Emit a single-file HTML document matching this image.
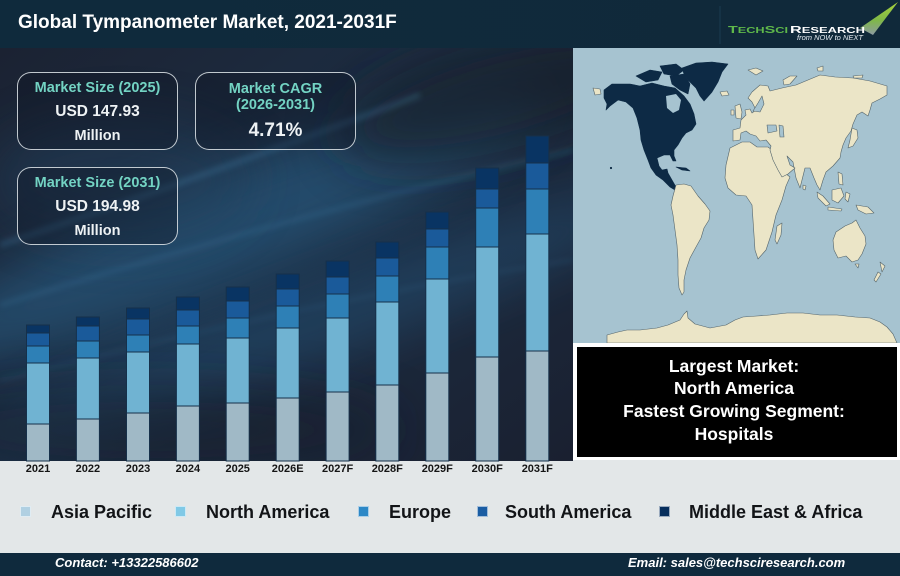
<!DOCTYPE html>
<html><head><meta charset="utf-8">
<style>
html,body{margin:0;padding:0}
body{width:900px;height:576px;position:relative;overflow:hidden;background:#e3e7e8;font-family:"Liberation Sans",Arial,sans-serif}
.t{position:absolute;white-space:nowrap;font-weight:bold}
.c{text-align:center}
.box{position:absolute;border:1.5px solid rgba(225,230,235,0.85);border-radius:14px;background:rgba(14,20,34,0.35);box-sizing:border-box}
.teal{color:#73d3c3;font-size:14.5px;line-height:18px}
.wh{color:#eef2f4;font-size:15.5px;line-height:18px}
.lg{font-size:18px;line-height:20px;color:#121417;top:502px}
.sq{position:absolute;top:506px;width:11px;height:11px;box-sizing:border-box;border:1px solid rgba(255,255,255,0.6)}
.bb{color:#fff;font-size:17.5px;line-height:22px;left:574px;width:320px;text-align:center}
.ft{color:#fff;font-size:13px;line-height:16px;font-style:italic;top:555px}
</style></head><body>
<svg width="900" height="576" viewBox="0 0 900 576" style="position:absolute;left:0;top:0">
<defs>
<linearGradient id="hdr" x1="0" y1="0" x2="1" y2="0"><stop offset="0" stop-color="#0f2a3c"/><stop offset="1" stop-color="#10293a"/></linearGradient>
<linearGradient id="bg" x1="0" y1="0" x2="1" y2="1"><stop offset="0" stop-color="#1b2232"/><stop offset="0.45" stop-color="#1d2f45"/><stop offset="1" stop-color="#1a2030"/></linearGradient>
<filter id="b25" x="-50%" y="-50%" width="200%" height="200%"><feGaussianBlur stdDeviation="25"/></filter>
<filter id="b3" x="-50%" y="-50%" width="200%" height="200%"><feGaussianBlur stdDeviation="3"/></filter>
<clipPath id="cp"><rect x="0" y="48" width="573" height="413"/></clipPath>
<linearGradient id="sw" x1="0" y1="0" x2="0" y2="1"><stop offset="0" stop-color="#a8d23c"/><stop offset="0.55" stop-color="#7fb848"/><stop offset="1" stop-color="#8d9aa3"/></linearGradient>
</defs>
<rect x="0" y="0" width="900" height="48" fill="url(#hdr)"/>
<rect x="0" y="48" width="573" height="413" fill="url(#bg)"/>
<g clip-path="url(#cp)">
<ellipse cx="230" cy="225" rx="340" ry="55" transform="rotate(-22 230 225)" fill="#2b6690" opacity="0.5" filter="url(#b25)"/>
<ellipse cx="320" cy="320" rx="360" ry="38" transform="rotate(-20 320 320)" fill="#265c84" opacity="0.4" filter="url(#b25)"/>
<ellipse cx="120" cy="180" rx="130" ry="60" fill="#20405c" opacity="0.5" filter="url(#b25)"/>
<ellipse cx="500" cy="95" rx="170" ry="55" transform="rotate(-15 500 95)" fill="#151a26" opacity="0.7" filter="url(#b25)"/>
<ellipse cx="150" cy="430" rx="250" ry="45" fill="#171d2b" opacity="0.5" filter="url(#b25)"/>
<path d="M0,245 C150,195 300,140 420,95" stroke="#4a8ab5" stroke-width="6" fill="none" opacity="0.25" filter="url(#b3)"/>
<path d="M0,305 C180,250 360,200 573,150" stroke="#4585b0" stroke-width="5" fill="none" opacity="0.2" filter="url(#b3)"/>
<path d="M0,380 C200,330 380,290 573,260" stroke="#3f7aa3" stroke-width="4" fill="none" opacity="0.15" filter="url(#b3)"/>
</g>
<!-- map -->
<rect x="573" y="48" width="327" height="295" fill="#a6c3d0"/>
<g stroke="#55656b" stroke-width="0.6" stroke-linejoin="round">
<g fill="#0d2a45" stroke="#0d2a45">
<path d="M604,90 L612,84 L630,84 L640,86 L652,83 L664,86 L675,88 L684,96 L690,104 L694,114 L696,124 L692,130 L686,133 L682,138 L678,145 L674,150 L674,156 L676,161 L673,161 L670,155 L664,155 L657,158 L659,166 L662,170 L667,169 L668,173 L672,180 L676,187 L675,190 L670,187 L663,180 L656,175 L651,168 L648,160 L644,150 L641,140 L640,130 L637,118 L633,108 L626,102 L618,100 L610,106 L606,110 L607,104 L604,98 Z"/>
<path d="M636,76 L650,70 L662,72 L658,80 L646,82 Z"/>
<path d="M660,66 L676,64 L684,70 L676,76 L664,74 Z"/>
<path d="M670,76 L684,74 L690,84 L688,94 L680,90 L672,84 Z"/>
<path d="M682,68 L696,63 L712,62 L728,64 L722,72 L718,82 L712,92 L704,101 L700,96 L696,88 L688,80 L684,74 Z"/>
<path d="M676,167 L686,168 L690,171 L682,170 Z"/>
<circle cx="611" cy="168" r="0.8"/>
</g>
<path d="M666,96 L676,94 L681,100 L679,110 L673,113 L667,108 Z" fill="#a6c3d0" stroke="none"/>
<g fill="#ebe5c7">
<path d="M593,88 L600,89 L601,94 L595,95 Z"/>
<path d="M720,92 L727,91 L729,95 L722,96 Z"/>
<path d="M676,185 L684,184 L691,186 L698,196 L705,204 L710,211 L709,220 L704,228 L701,238 L696,247 L690,258 L686,270 L684,280 L684,292 L682,295 L679,288 L678,275 L678,260 L677,245 L675,230 L673,215 L671,205 L673,196 Z"/>
<path d="M730,148 L742,142 L750,142 L757,147 L768,147 L772,150 L776,160 L781,170 L790,177 L786,186 L782,200 L776,215 L772,232 L766,250 L758,259 L755,250 L754,235 L753,220 L752,205 L746,196 L736,195 L728,188 L725,178 L726,165 Z"/>
<path d="M777,226 L782,223 L781,235 L777,244 L775,240 Z"/>
<path d="M733,130 L740,128 L741,120 L746,115 L745,110 L750,109 L752,113 L756,110 L752,102 L748,98 L752,92 L760,85 L768,86 L770,91 L782,88 L796,85 L808,80 L820,75 L835,77 L853,78 L870,81 L887,86 L887,95 L880,99 L872,103 L870,110 L868,116 L862,112 L857,115 L853,124 L851,131 L846,138 L843,145 L841,152 L840,158 L833,166 L826,172 L823,180 L820,190 L817,185 L814,178 L810,168 L805,168 L800,188 L796,178 L793,162 L787,156 L790,165 L795,168 L788,174 L782,177 L778,170 L773,160 L770,150 L771,146 L766,140 L760,141 L756,136 L750,134 L746,131 L741,133 L740,140 L733,141 Z"/>
<path d="M735,106 L740,104 L742,112 L741,119 L736,118 Z"/>
<path d="M731,110 L734,110 L734,115 L731,115 Z"/>
<path d="M748,70 L756,68 L763,71 L756,75 Z"/>
<path d="M783,80 L790,76 L797,76 L790,84 L784,85 Z"/>
<path d="M817,68 L823,66 L823,71 L818,71 Z"/>
<path d="M853,76 L863,75 L862,78 L854,78 Z"/>
<path d="M852,128 L857,130 L858,138 L853,146 L848,148 L850,140 Z"/>
<path d="M838,172 L842,174 L843,185 L839,184 Z"/>
<path d="M817,192 L823,196 L830,204 L826,206 L818,198 Z"/>
<path d="M828,207 L842,209 L841,211 L828,210 Z"/>
<path d="M832,190 L841,188 L844,196 L838,203 L832,200 Z"/>
<path d="M846,192 L850,194 L848,202 L845,199 Z"/>
<path d="M856,205 L868,207 L874,213 L866,214 L858,210 Z"/>
<path d="M836,232 L845,226 L852,223 L856,220 L860,228 L865,236 L866,244 L862,254 L858,260 L852,262 L846,256 L838,258 L834,250 L833,240 Z"/>
<path d="M855,264 L859,264 L858,268 Z"/>
<path d="M880,262 L885,266 L882,272 Z"/>
<path d="M878,272 L881,274 L876,282 L874,280 Z"/>
<path d="M803,185 L806,186 L805,190 L803,189 Z"/>
<path d="M607,343 L607,335 L618,332 L627,330 L640,330 L657,328 L668,325 L680,320 L684,314 L687,311 L688,318 L695,324 L710,328 L726,325 L735,320 L743,317 L757,316 L770,315 L787,313 L803,313 L820,315 L837,315 L855,317 L870,318 L880,322 L887,327 L893,334 L897,343 Z"/>
</g>
<g fill="#a6c3d0">
<path d="M767,125 L776,125 L777,131 L768,133 Z"/>
<path d="M779,125 L783,126 L784,137 L780,137 Z"/>
<path d="M753,111 L758,103 L762,96 L764,104 L760,112 Z"/>
</g>
</g>
<rect x="573" y="343" width="327" height="117" fill="#ffffff"/>
<rect x="577" y="347" width="320" height="110" fill="#000000"/>
<rect x="0" y="553" width="900" height="23" fill="#0f2a3d"/>
<!-- logo -->
<line x1="720" y1="6" x2="720" y2="44" stroke="#1a3a50" stroke-width="1"/>
<polygon points="860,28 898,2 873,35" fill="url(#sw)"/>
<text x="728" y="33" font-family="Liberation Sans, Arial, sans-serif" font-weight="bold" font-size="10" fill="#5fb84a" textLength="60" lengthAdjust="spacingAndGlyphs">T<tspan font-size="8">ECH</tspan>S<tspan font-size="8">CI</tspan></text>
<text x="790" y="33" font-family="Liberation Sans, Arial, sans-serif" font-weight="bold" font-size="10" fill="#ffffff" textLength="75" lengthAdjust="spacingAndGlyphs">R<tspan font-size="8">ESEARCH</tspan></text>
<text x="797" y="40" font-family="Liberation Sans, Arial, sans-serif" font-style="italic" font-size="7" fill="#e8eef2" textLength="66" lengthAdjust="spacingAndGlyphs">from NOW to NEXT</text>
<!-- bars -->
<g stroke="#16304a" stroke-width="1">
<rect x="26.5" y="325" width="23" height="8" fill="#093463"/><rect x="26.5" y="333" width="23" height="13" fill="#1a5a9a"/><rect x="26.5" y="346" width="23" height="17" fill="#2e80b6"/><rect x="26.5" y="363" width="23" height="61" fill="#70b3d2"/><rect x="26.5" y="424" width="23" height="37" fill="#a0b9c6"/>
<rect x="76.4" y="317" width="23" height="9" fill="#093463"/><rect x="76.4" y="326" width="23" height="15" fill="#1a5a9a"/><rect x="76.4" y="341" width="23" height="17" fill="#2e80b6"/><rect x="76.4" y="358" width="23" height="61" fill="#70b3d2"/><rect x="76.4" y="419" width="23" height="42" fill="#a0b9c6"/>
<rect x="126.5" y="308" width="23" height="11" fill="#093463"/><rect x="126.5" y="319" width="23" height="16" fill="#1a5a9a"/><rect x="126.5" y="335" width="23" height="17" fill="#2e80b6"/><rect x="126.5" y="352" width="23" height="61" fill="#70b3d2"/><rect x="126.5" y="413" width="23" height="48" fill="#a0b9c6"/>
<rect x="176.4" y="297" width="23" height="13" fill="#093463"/><rect x="176.4" y="310" width="23" height="16" fill="#1a5a9a"/><rect x="176.4" y="326" width="23" height="18" fill="#2e80b6"/><rect x="176.4" y="344" width="23" height="62" fill="#70b3d2"/><rect x="176.4" y="406" width="23" height="55" fill="#a0b9c6"/>
<rect x="226.2" y="287" width="23" height="14" fill="#093463"/><rect x="226.2" y="301" width="23" height="17" fill="#1a5a9a"/><rect x="226.2" y="318" width="23" height="20" fill="#2e80b6"/><rect x="226.2" y="338" width="23" height="65" fill="#70b3d2"/><rect x="226.2" y="403" width="23" height="58" fill="#a0b9c6"/>
<rect x="276.2" y="274" width="23" height="15" fill="#093463"/><rect x="276.2" y="289" width="23" height="17" fill="#1a5a9a"/><rect x="276.2" y="306" width="23" height="22" fill="#2e80b6"/><rect x="276.2" y="328" width="23" height="70" fill="#70b3d2"/><rect x="276.2" y="398" width="23" height="63" fill="#a0b9c6"/>
<rect x="326.1" y="261" width="23" height="16" fill="#093463"/><rect x="326.1" y="277" width="23" height="17" fill="#1a5a9a"/><rect x="326.1" y="294" width="23" height="24" fill="#2e80b6"/><rect x="326.1" y="318" width="23" height="74" fill="#70b3d2"/><rect x="326.1" y="392" width="23" height="69" fill="#a0b9c6"/>
<rect x="375.8" y="242" width="23" height="16" fill="#093463"/><rect x="375.8" y="258" width="23" height="18" fill="#1a5a9a"/><rect x="375.8" y="276" width="23" height="26" fill="#2e80b6"/><rect x="375.8" y="302" width="23" height="83" fill="#70b3d2"/><rect x="375.8" y="385" width="23" height="76" fill="#a0b9c6"/>
<rect x="425.8" y="212" width="23" height="17" fill="#093463"/><rect x="425.8" y="229" width="23" height="18" fill="#1a5a9a"/><rect x="425.8" y="247" width="23" height="32" fill="#2e80b6"/><rect x="425.8" y="279" width="23" height="94" fill="#70b3d2"/><rect x="425.8" y="373" width="23" height="88" fill="#a0b9c6"/>
<rect x="475.7" y="168" width="23" height="21" fill="#093463"/><rect x="475.7" y="189" width="23" height="19" fill="#1a5a9a"/><rect x="475.7" y="208" width="23" height="39" fill="#2e80b6"/><rect x="475.7" y="247" width="23" height="110" fill="#70b3d2"/><rect x="475.7" y="357" width="23" height="104" fill="#a0b9c6"/>
<rect x="525.8" y="136" width="23" height="27" fill="#093463"/><rect x="525.8" y="163" width="23" height="26" fill="#1a5a9a"/><rect x="525.8" y="189" width="23" height="45" fill="#2e80b6"/><rect x="525.8" y="234" width="23" height="117" fill="#70b3d2"/><rect x="525.8" y="351" width="23" height="110" fill="#a0b9c6"/>
</g>
<g font-family="Liberation Sans, Arial, sans-serif" font-weight="bold" font-size="11" fill="#141414" text-anchor="middle">
<text x="38" y="472">2021</text><text x="87.9" y="472">2022</text><text x="138" y="472">2023</text><text x="187.9" y="472">2024</text><text x="237.7" y="472">2025</text><text x="287.7" y="472">2026E</text><text x="337.6" y="472">2027F</text><text x="387.3" y="472">2028F</text><text x="437.3" y="472">2029F</text><text x="487.2" y="472">2030F</text><text x="537.3" y="472">2031F</text>
</g>
</svg>

<div class="t" style="left:18px;top:11px;font-size:19px;line-height:24px;color:#ffffff">Global Tympanometer Market, 2021-2031F</div>

<div class="box" style="left:17px;top:72px;width:161px;height:78px"></div>
<div class="box" style="left:195px;top:72px;width:161px;height:78px"></div>
<div class="box" style="left:17px;top:167px;width:161px;height:78px"></div>

<div class="t c teal" style="left:17px;width:161px;top:79px">Market Size (2025)</div>
<div class="t c wh" style="left:17px;width:161px;top:103px">USD 147.93</div>
<div class="t c wh" style="left:17px;width:161px;top:127px;font-size:14.5px">Million</div>

<div class="t c teal" style="left:195px;width:161px;top:80px">Market CAGR</div>
<div class="t c teal" style="left:195px;width:161px;top:96px">(2026-2031)</div>
<div class="t c wh" style="left:195px;width:161px;top:120px;font-size:19px;line-height:22px">4.71%</div>

<div class="t c teal" style="left:17px;width:161px;top:174px">Market Size (2031)</div>
<div class="t c wh" style="left:17px;width:161px;top:198px">USD 194.98</div>
<div class="t c wh" style="left:17px;width:161px;top:222px;font-size:14.5px">Million</div>

<div class="t bb" style="top:355px">Largest Market:</div>
<div class="t bb" style="top:377px">North America</div>
<div class="t bb" style="top:400px">Fastest Growing Segment:</div>
<div class="t bb" style="top:423px">Hospitals</div>

<div class="sq" style="left:20px;background:#b0d0e2"></div>
<div class="t lg" style="left:51px">Asia Pacific</div>
<div class="sq" style="left:175px;background:#80c9e6"></div>
<div class="t lg" style="left:206px">North America</div>
<div class="sq" style="left:358px;background:#2d88c6"></div>
<div class="t lg" style="left:389px">Europe</div>
<div class="sq" style="left:477px;background:#1a5da3"></div>
<div class="t lg" style="left:505px">South America</div>
<div class="sq" style="left:659px;background:#062e5c"></div>
<div class="t lg" style="left:689px">Middle East &amp; Africa</div>

<div class="t ft" style="left:55px">Contact: +13322586602</div>
<div class="t ft" style="left:628px">Email: sales@techsciresearch.com</div>
</body></html>
